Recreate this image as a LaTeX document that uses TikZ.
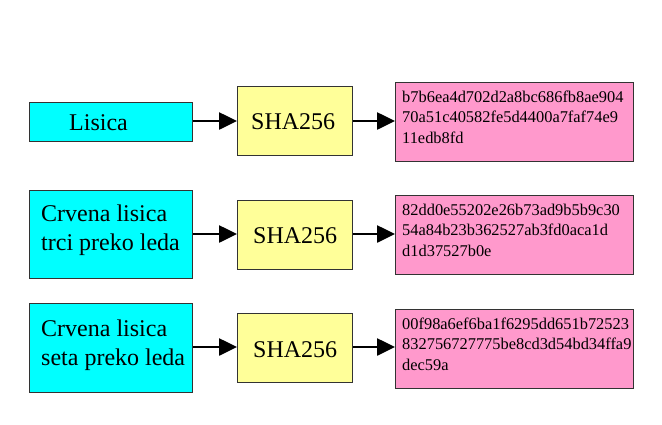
\documentclass[tikz,border=0pt]{standalone}
\usepackage{fontspec}
\setmainfont{Liberation Serif}
\usetikzlibrary{arrows.meta}
\definecolor{incyan}{HTML}{00FFFF}
\definecolor{hashyellow}{HTML}{FFFF99}
\definecolor{outpink}{HTML}{FF99CC}
\definecolor{edgegray}{HTML}{333333}
\tikzset{
  boxbase/.style={draw=edgegray, line width=1pt, rectangle, inner sep=0pt, anchor=north west},
  inbox/.style={boxbase, fill=incyan, minimum width=163pt},
  shabox/.style={boxbase, fill=hashyellow, minimum width=115pt, minimum height=69pt},
  outbox/.style={boxbase, fill=outpink, minimum width=238pt, minimum height=79pt},
  bigtext/.style={inner sep=0pt, anchor=base west, font=\fontsize{24}{29}\selectfont},
  hextext/.style={inner sep=0pt, anchor=base west, font=\fontsize{16.4}{20.5}\selectfont},
  flow/.style={line width=2.6pt, -{Triangle[length=18pt, width=17pt]}, shorten >=0pt}
}
\begin{document}
\begin{tikzpicture}[x=1pt, y=-1pt]
\useasboundingbox (0,0) rectangle (662,424);
% row 1
\node[inbox, minimum height=39pt] (in1) at (29,102) {};
\node[shabox] (sha1) at (237,86) {};
\node[outbox] (out1) at (395,82) {};
\node[bigtext] (t1) at (69,130) {Lisica};
\node[bigtext] (s1) at (251,129) {SHA256};
\node[hextext] (h1a) at (402,102) {b7b6ea4d702d2a8bc686fb8ae904};
\node[hextext] (h1b) at (402,122.5) {70a51c40582fe5d4400a7faf74e9};
\node[hextext] (h1c) at (402,143) {11edb8fd};
% row 2
\node[inbox, minimum height=88pt] (in2) at (29,190) {};
\node[shabox] (sha2) at (237,200) {};
\node[outbox] (out2) at (395,195) {};
\node[bigtext] (t2a) at (41,221) {Crvena lisica};
\node[bigtext] (t2b) at (41,250) {trci preko leda};
\node[bigtext] (s2) at (253,243) {SHA256};
\node[hextext] (h2a) at (402,215) {82dd0e55202e26b73ad9b5b9c30};
\node[hextext] (h2b) at (402,235.5) {54a84b23b362527ab3fd0aca1d};
\node[hextext] (h2c) at (402,256) {d1d37527b0e};
% row 3
\node[inbox, minimum height=89pt] (in3) at (29,303) {};
\node[shabox] (sha3) at (237,313) {};
\node[outbox] (out3) at (395,309) {};
\node[bigtext] (t3a) at (41,336) {Crvena lisica};
\node[bigtext] (t3b) at (41,365) {seta preko leda};
\node[bigtext] (s3) at (253,357) {SHA256};
\node[hextext] (h3a) at (402,329) {00f98a6ef6ba1f6295dd651b72523};
\node[hextext] (h3b) at (402,349.5) {832756727775be8cd3d54bd34ffa9};
\node[hextext] (h3c) at (402,370) {dec59a};
% arrows
\draw[flow] (in1.east |- 0,121) -- (sha1.west |- 0,121);
\draw[flow] (sha1.east |- 0,121) -- (out1.west |- 0,121);
\draw[flow] (in2.east |- 0,234) -- (sha2.west |- 0,234);
\draw[flow] (sha2.east |- 0,234) -- (out2.west |- 0,234);
\draw[flow] (in3.east |- 0,347) -- (sha3.west |- 0,347);
\draw[flow] (sha3.east |- 0,347) -- (out3.west |- 0,347);
\end{tikzpicture}
\end{document}
